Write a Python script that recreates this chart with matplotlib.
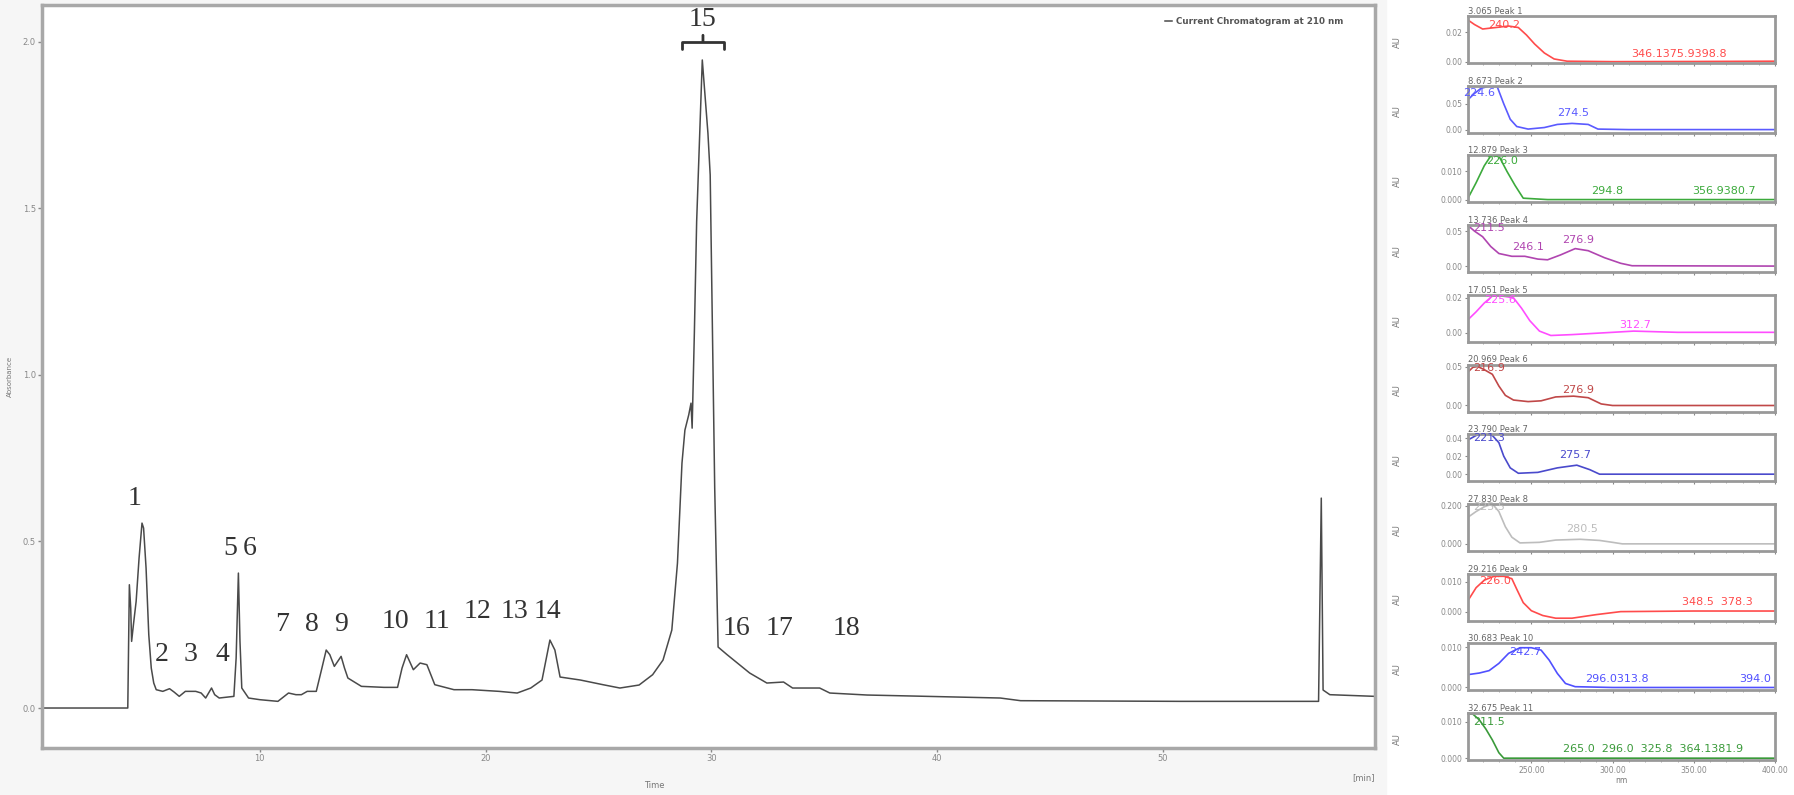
import numpy as np
import matplotlib.pyplot as plt
from matplotlib.patches import Rectangle

plt.rcParams["font.family"] = ["DejaVu Sans"]

# ---- 主色谱图数据 (min, AU) ----
time_min = [0.35, 4.15, 4.22, 4.28, 4.32, 4.40, 4.52, 4.65, 4.78, 4.85, 4.96, 5.08,
            5.19, 5.30, 5.41, 5.70, 6.00, 6.20, 6.43, 6.70, 7.16, 7.40, 7.60, 7.86,
            8.00, 8.20, 8.85, 8.95, 9.05, 9.12, 9.20, 9.50, 10.0, 10.8, 11.27, 11.6,
            11.84, 12.1, 12.5, 12.75, 12.94, 13.1, 13.3, 13.6, 13.75, 13.9, 14.5, 15.5,
            16.1, 16.3, 16.5, 16.8, 17.1, 17.4, 17.75, 18.6, 19.4, 20.6, 21.4, 22.0,
            22.5, 22.85, 23.07, 23.3, 24.2, 25.2, 25.95, 26.8, 27.4, 27.86, 28.25, 28.5,
            28.7, 28.83, 29.0, 29.1, 29.15, 29.25, 29.35, 29.6, 29.85, 29.95, 30.05, 30.15,
            30.3, 30.7, 31.7, 32.46, 33.2, 33.6, 34.8, 35.25, 36.9, 38.9, 42.8, 43.7,
            50.75, 56.9, 57.02, 57.1, 57.4, 59.4]
absorbance = [0.0, 0.0, 0.37, 0.30, 0.20, 0.25, 0.32, 0.45, 0.555, 0.54, 0.42, 0.22,
              0.12, 0.075, 0.055, 0.05, 0.058, 0.048, 0.035, 0.05, 0.05, 0.045, 0.03, 0.06,
              0.04, 0.03, 0.035, 0.15, 0.405, 0.20, 0.06, 0.03, 0.025, 0.02, 0.045, 0.04,
              0.04, 0.05, 0.05, 0.12, 0.174, 0.16, 0.125, 0.155, 0.12, 0.09, 0.065, 0.062,
              0.062, 0.12, 0.16, 0.115, 0.135, 0.13, 0.07, 0.055, 0.055, 0.05, 0.045, 0.06,
              0.084, 0.204, 0.174, 0.093, 0.084, 0.07, 0.06, 0.069, 0.10, 0.144, 0.234, 0.435,
              0.735, 0.834, 0.88, 0.915, 0.84, 1.13, 1.46, 1.945, 1.725, 1.60, 1.13, 0.66,
              0.183, 0.16, 0.105, 0.075, 0.078, 0.06, 0.06, 0.045, 0.039, 0.036, 0.03, 0.022,
              0.02, 0.02, 0.63, 0.054, 0.04, 0.035]

# 峰编号标注
peak_names = ["1", "2", "3", "4", "5", "6", "7", "8", "9", "10", "11", "12", "13",
              "14", "16", "17", "18"]
peak_t = [4.47, 5.67, 6.95, 8.33, 8.68, 9.57, 10.98, 12.31, 13.6, 15.99, 17.85,
          19.66, 21.3, 22.72, 31.13, 33.0, 36.0]
peak_y = [0.63, 0.16, 0.16, 0.16, 0.48, 0.48, 0.25, 0.25, 0.25, 0.26, 0.26,
          0.29, 0.29, 0.29, 0.24, 0.24, 0.24]
big_peak_name = "15"
big_peak_t = 29.63
big_peak_y = 2.0

# ---- 各峰紫外光谱 (nm, AU) ----
spec_titles = ["3.065 Peak 1", "8.673 Peak 2", "12.879 Peak 3", "13.736 Peak 4",
               "17.051 Peak 5", "20.969 Peak 6", "23.790 Peak 7", "27.830 Peak 8",
               "29.216 Peak 9", "30.683 Peak 10", "32.675 Peak 11"]

pk1_nm = [211, 215, 220, 228, 236, 242, 247, 252, 258, 264, 272, 300, 350, 400]
pk1_au = [0.028, 0.025, 0.022, 0.023, 0.024, 0.023, 0.018, 0.012, 0.006, 0.002,
          0.0005, 0.0002, 0.0003, 0.0005]
pk2_nm = [211, 215, 219, 224, 229, 233, 237, 241, 248, 258, 266, 275, 285, 291, 310, 400]
pk2_au = [0.058, 0.07, 0.08, 0.084, 0.083, 0.05, 0.02, 0.006, 0.001, 0.004, 0.01,
          0.012, 0.01, 0.001, 0.0, 0.0]
pk3_nm = [211, 216, 221, 225, 230, 235, 240, 245, 260, 400]
pk3_au = [0.0005, 0.006, 0.012, 0.0155, 0.0155, 0.01, 0.005, 0.0005, 0.0, 0.0]
pk4_nm = [211, 215, 220, 225, 230, 238, 246, 254, 260, 268, 277, 285, 295, 305, 312, 400]
pk4_au = [0.058, 0.05, 0.042, 0.028, 0.018, 0.014, 0.014, 0.01, 0.009, 0.016, 0.025,
          0.022, 0.012, 0.004, 0.0005, 0.0]
pk5_nm = [211, 216, 221, 226, 232, 239, 244, 249, 255, 262, 275, 300, 313, 340, 400]
pk5_au = [0.0075, 0.012, 0.017, 0.021, 0.021, 0.02, 0.014, 0.007, 0.001, -0.0015,
          -0.001, 0.0003, 0.001, 0.0003, 0.0003]
pk6_nm = [211, 214, 217, 221, 226, 230, 234, 239, 248, 256, 265, 276, 285, 293, 300, 400]
pk6_au = [0.043, 0.049, 0.05, 0.046, 0.04, 0.025, 0.013, 0.007, 0.005, 0.006, 0.011,
          0.012, 0.01, 0.002, 0.0, 0.0]
pk7_nm = [211, 216, 221, 226, 230, 233, 237, 242, 254, 266, 278, 286, 292, 400]
pk7_au = [0.038, 0.043, 0.045, 0.043, 0.035, 0.02, 0.007, 0.001, 0.002, 0.007, 0.01,
          0.005, 0.0, 0.0]
pk8_nm = [211, 216, 221, 226, 230, 234, 238, 243, 255, 265, 280, 292, 300, 306, 400]
pk8_au = [0.14, 0.17, 0.195, 0.21, 0.17, 0.09, 0.035, 0.005, 0.008, 0.02, 0.024,
          0.018, 0.008, 0.0, 0.0]
pk9_nm = [211, 216, 221, 227, 233, 238, 241, 245, 250, 257, 265, 275, 290, 305, 350, 400]
pk9_au = [0.0037, 0.008, 0.0105, 0.0118, 0.0118, 0.011, 0.0075, 0.003, 0.0003,
          -0.0013, -0.0022, -0.0022, -0.001, 0.0, 0.0002, 0.0002]
pk10_nm = [211, 218, 224, 230, 236, 243, 250, 256, 261, 266, 271, 277, 300, 400]
pk10_au = [0.0032, 0.0036, 0.0042, 0.006, 0.0085, 0.0099, 0.0099, 0.0093, 0.0068,
           0.0035, 0.001, 0.0002, 0.0, 0.0]
pk11_nm = [211, 214, 218, 222, 226, 230, 233, 400]
pk11_au = [0.0121, 0.0121, 0.0105, 0.008, 0.005, 0.0015, 0.0, 0.0]

# 光谱上的波长标注 (文字, nm, AU)
pk1_marks = [("240.2", 233, 0.0247), ("346.1375.9398.8", 341, 0.0053)]
pk2_marks = [("224.6", 218, 0.071), ("274.5", 276, 0.033)]
pk3_marks = [("226.0", 232, 0.0136), ("294.8", 296.6, 0.003), ("356.9380.7", 368.8, 0.003)]
pk4_marks = [("211.5", 224, 0.054), ("246.1", 248, 0.027), ("276.9", 279, 0.037)]
pk5_marks = [("225.6", 230.6, 0.019), ("312.7", 314, 0.0046)]
pk6_marks = [("216.9", 224, 0.0487), ("276.9", 279, 0.0205)]
pk7_marks = [("221.3", 224, 0.04), ("275.7", 276.7, 0.021)]
pk8_marks = [("225.5", 224, 0.195), ("280.5", 281, 0.079)]
pk9_marks = [("226.0", 227.5, 0.0103), ("348.5  378.3", 364.5, 0.0033)]
pk10_marks = [("242.7", 246, 0.0088), ("296.0313.8", 302.7, 0.002), ("394.0", 388, 0.002)]
pk11_marks = [("211.5", 224, 0.010), ("265.0  296.0  325.8  364.1381.9", 325, 0.0024)]

spec_nm = [pk1_nm, pk2_nm, pk3_nm, pk4_nm, pk5_nm, pk6_nm, pk7_nm, pk8_nm, pk9_nm, pk10_nm, pk11_nm]
spec_au = [pk1_au, pk2_au, pk3_au, pk4_au, pk5_au, pk6_au, pk7_au, pk8_au, pk9_au, pk10_au, pk11_au]
spec_marks = [pk1_marks, pk2_marks, pk3_marks, pk4_marks, pk5_marks, pk6_marks,
              pk7_marks, pk8_marks, pk9_marks, pk10_marks, pk11_marks]

# 样式
spec_colors = ["#ff4b4b", "#5a5aff", "#3caa3c", "#b045b0", "#ff4dff", "#c04848",
               "#4a4acc", "#bdbdbd", "#ff4b4b", "#5050ff", "#3a9a3a"]
spec_ylims = [(-0.0007, 0.0307), (-0.006, 0.085), (-0.001, 0.0157), (-0.0086, 0.0586),
              (-0.0051, 0.0217), (-0.0077, 0.0526), (-0.0078, 0.0444), (-0.037, 0.21),
              (-0.003, 0.0127), (-0.0007, 0.011), (-0.0005, 0.0124)]
spec_yticks = [[0, 0.02], [0, 0.05], [0, 0.01], [0, 0.05], [0, 0.02], [0, 0.05],
               [0, 0.02, 0.04], [0, 0.2], [0, 0.01], [0, 0.01], [0, 0.01]]
spec_fmt = ["%.2f", "%.2f", "%.3f", "%.2f", "%.2f", "%.2f", "%.2f", "%.3f", "%.3f", "%.3f", "%.3f"]

W, H = 1794, 795
fig = plt.figure(figsize=(W / 100, H / 100), dpi=100, facecolor="white")
fig.patches.append(Rectangle((0, 0), 1386 / W, 1, transform=fig.transFigure,
                             color="#f6f6f6", zorder=-10))

# ---- 主图 ----
ax = fig.add_axes([42 / W, (H - 748) / H, 1333 / W, 743 / H])
ax.set_facecolor("white")
ax.plot(time_min, absorbance, color="#4a4a4a", lw=1.1,
        label="Current Chromatogram at 210 nm")
ax.set_xlim(0.35, 59.4)
ax.set_ylim(-0.12, 2.11)
ax.set_xticks([10, 20, 30, 40, 50])
ax.set_yticks([0.0, 0.5, 1.0, 1.5, 2.0])
ax.yaxis.set_major_formatter(plt.FormatStrFormatter("%.1f"))
ax.tick_params(labelsize=6, colors="#888888", length=3, width=1, pad=1.5)
for s in ax.spines.values():
    s.set_color("#a8a8a8")
    s.set_linewidth(2.5)
ax.set_xlabel("Time", fontsize=6, color="#777777")
ax.xaxis.set_label_coords((654 - 42) / 1333, -0.045)
ax.set_ylabel("Absorbance", fontsize=5, color="#777777")
ax.yaxis.set_label_coords(-0.022, 0.5)
ax.text(1.0, -0.04, "[min]", transform=ax.transAxes, ha="right", va="center",
        fontsize=6, color="#777777")
ax.legend(loc="upper right", bbox_to_anchor=(0.982, 0.995), frameon=False,
          prop={"size": 6.3, "weight": "bold"}, handlelength=0.8,
          handletextpad=0.4, labelcolor="#555555")

for name, t, y in zip(peak_names, peak_t, peak_y):
    ax.text(t, y, name, ha="center", va="center", fontsize=20,
            family="Liberation Serif", color="#333333")
ax.annotate(big_peak_name, xy=(big_peak_t, big_peak_y), xytext=(big_peak_t, 2.065),
            ha="center", va="center", fontsize=20, family="Liberation Serif",
            color="#333333",
            arrowprops=dict(arrowstyle="-[, widthB=0.75, lengthB=0.25", lw=2,
                            color="#333333", shrinkA=0, shrinkB=0))

# ---- 右侧光谱小图 ----
for i in range(11):
    top = 16 + i * 69.7
    sax = fig.add_axes([1468 / W, (H - top - 47) / H, 307 / W, 47 / H])
    sax.plot(spec_nm[i], spec_au[i], color=spec_colors[i], lw=1.2)
    sax.set_xlim(211, 400)
    sax.set_ylim(*spec_ylims[i])
    sax.set_yticks(spec_yticks[i])
    sax.yaxis.set_major_formatter(plt.FormatStrFormatter(spec_fmt[i]))
    sax.set_xticks([250, 300, 350, 400])
    sax.set_xticks(np.arange(220, 400, 10), minor=True)
    sax.tick_params(labelsize=5.5, colors="#888888", length=2.5, width=0.8, pad=1.5)
    sax.tick_params(which="minor", length=1.5, colors="#999999")
    if i < 10:
        sax.tick_params(axis="x", labelbottom=False)
    else:
        sax.xaxis.set_major_formatter(plt.FormatStrFormatter("%.2f"))
        sax.set_xlabel("nm", fontsize=5.5, color="#777777", labelpad=1)
    for s in sax.spines.values():
        s.set_color("#999999")
        s.set_linewidth(2)
    sax.set_title(spec_titles[i], loc="left", fontsize=6, color="#666666", pad=1.5)
    sax.set_ylabel("AU", fontsize=6, color="#777777")
    sax.yaxis.set_label_coords(-0.215, 0.45)
    for txt, x, y in spec_marks[i]:
        sax.text(x, y, txt, ha="center", va="center", fontsize=8,
                 color=spec_colors[i])

fig.savefig("out.png", dpi=100, facecolor="white")
